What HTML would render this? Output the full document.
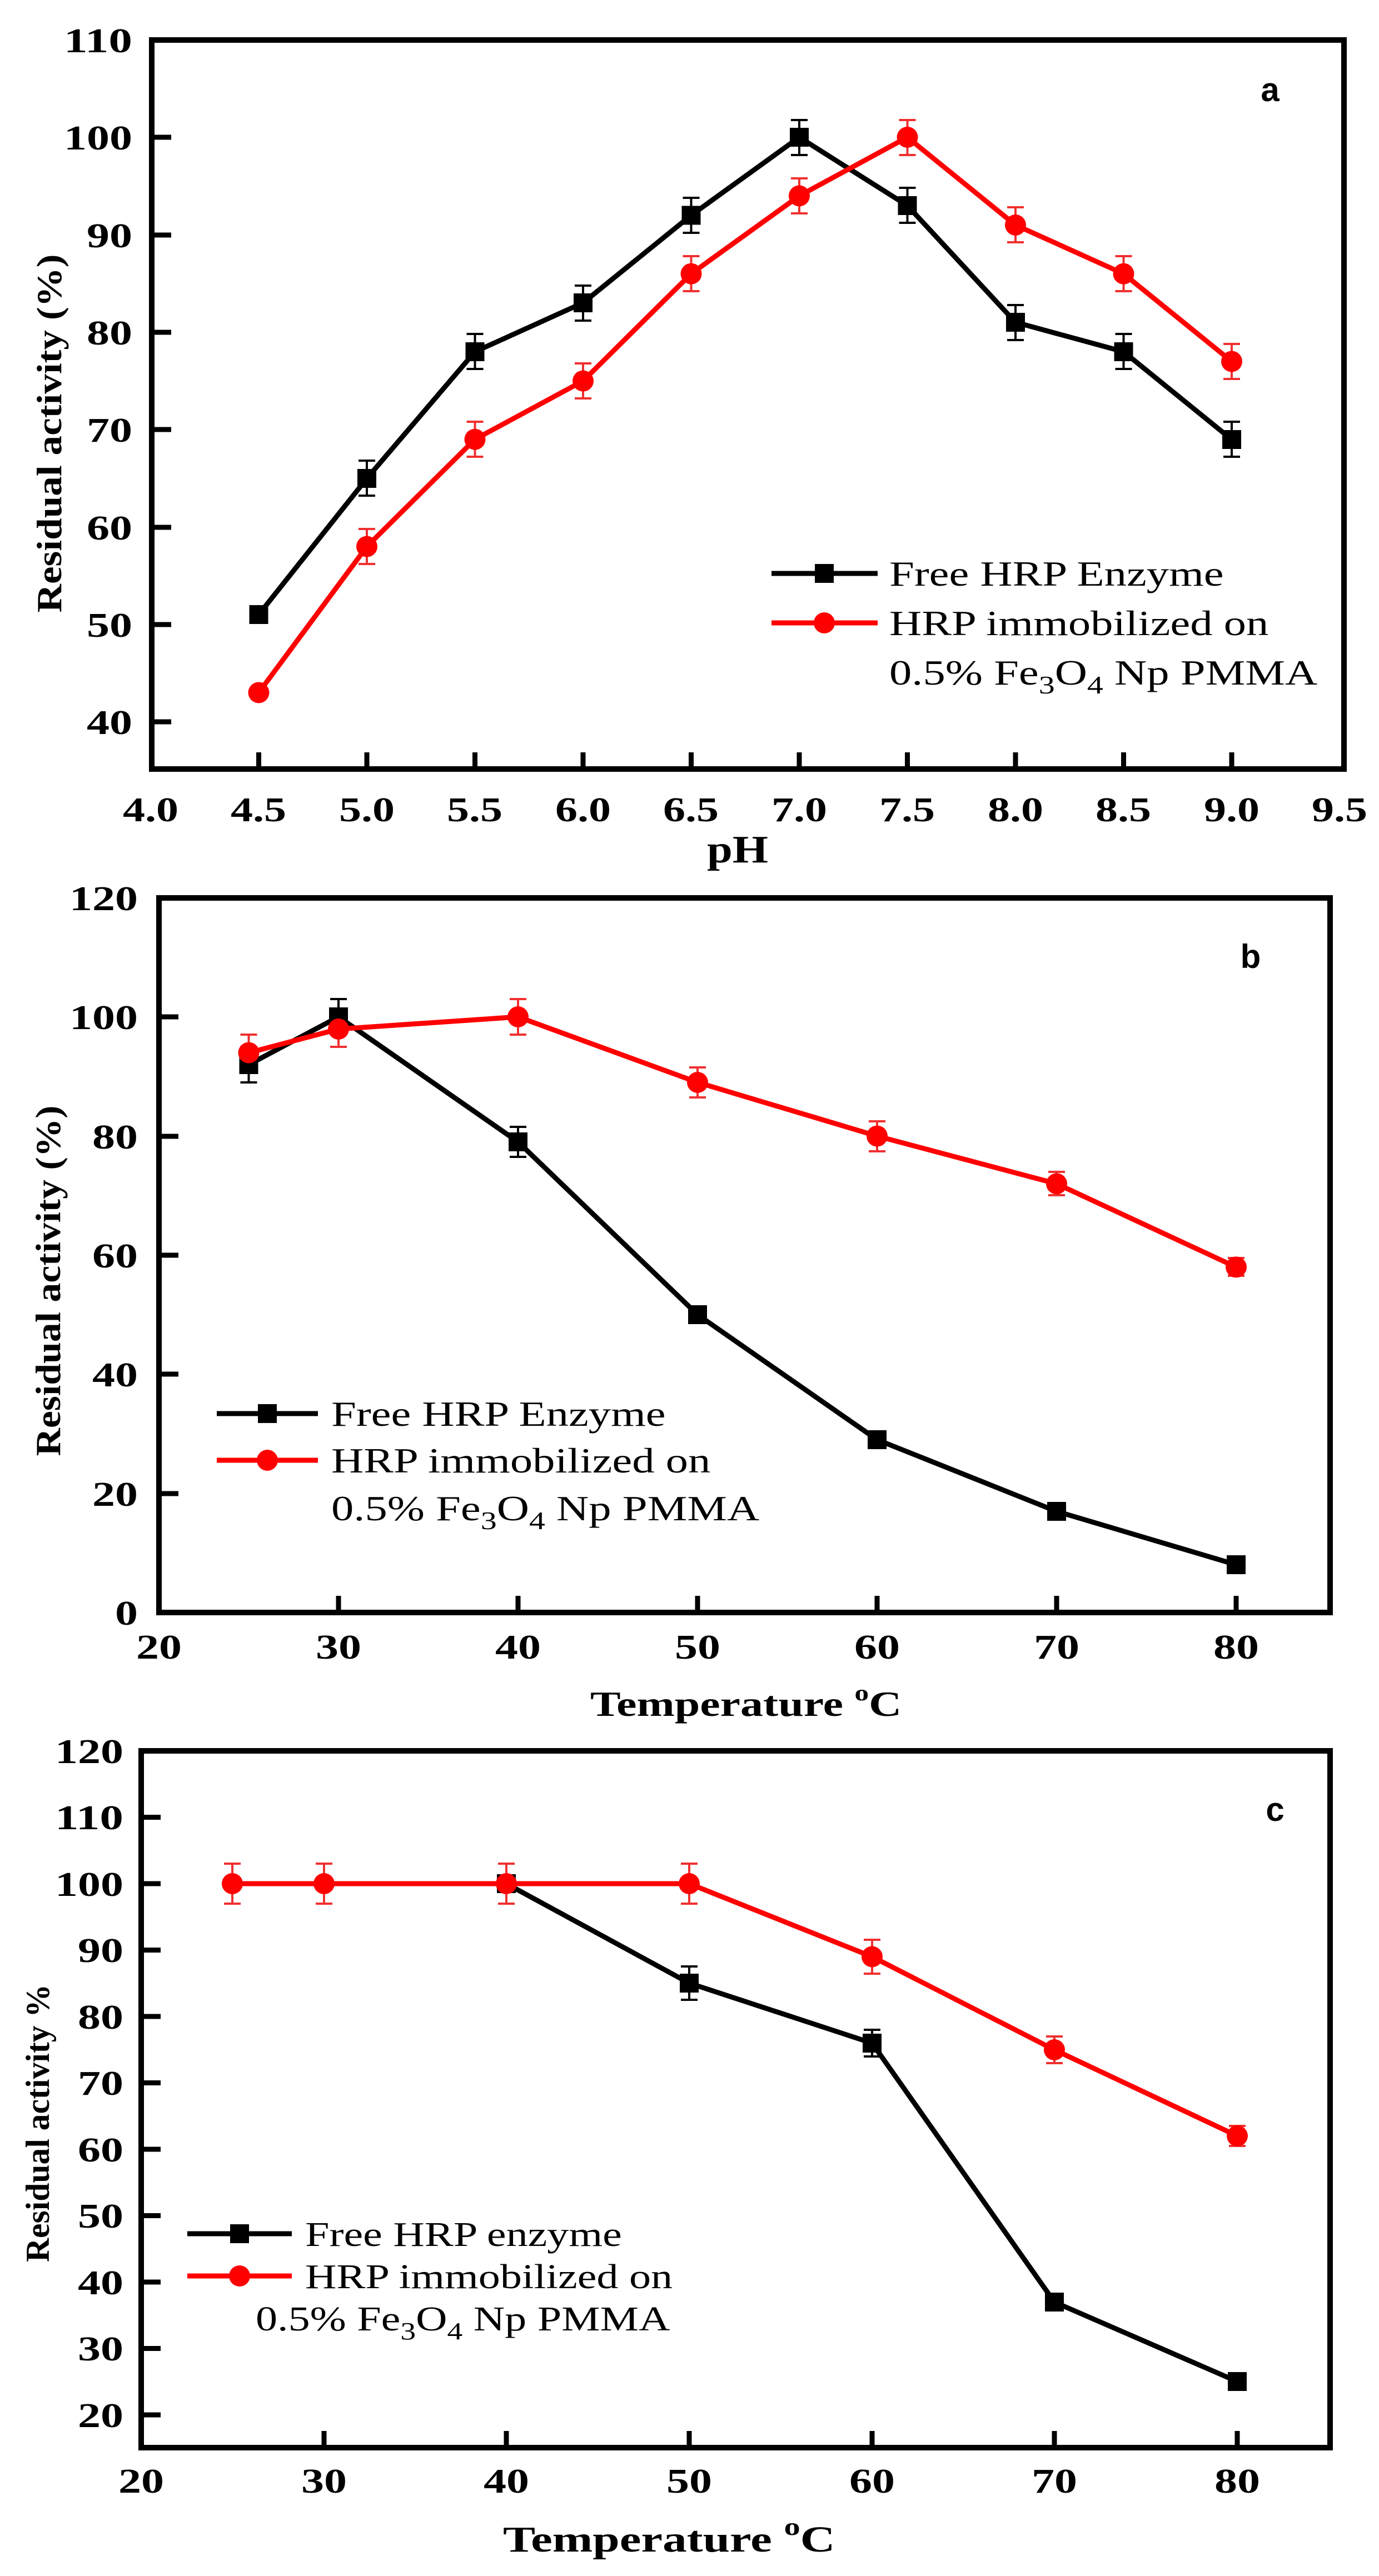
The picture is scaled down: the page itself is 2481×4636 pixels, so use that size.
<!DOCTYPE html>
<html><head><meta charset="utf-8"><style>html,body{margin:0;padding:0;background:#fff}svg{display:block;font-family:"Liberation Serif","Times New Roman",serif}.ss{font-family:"Liberation Sans",Arial,sans-serif}</style></head>
<body>
<svg width="2481" height="4636" viewBox="0 0 2481 4636" xmlns="http://www.w3.org/2000/svg">
<rect width="2481" height="4636" fill="#fff"/>

<!-- ================= PANEL A ================= -->
<g>
<rect x="273" y="72" width="2145" height="1312" fill="none" stroke="#000" stroke-width="10"/>
<g stroke="#000" stroke-width="9">
<line x1="273" y1="247" x2="308" y2="247"/><line x1="273" y1="423" x2="308" y2="423"/><line x1="273" y1="598" x2="308" y2="598"/><line x1="273" y1="773" x2="308" y2="773"/><line x1="273" y1="949" x2="308" y2="949"/><line x1="273" y1="1124" x2="308" y2="1124"/><line x1="273" y1="1299" x2="308" y2="1299"/>
<line x1="465.5" y1="1384" x2="465.5" y2="1354"/><line x1="660" y1="1384" x2="660" y2="1354"/><line x1="854.5" y1="1384" x2="854.5" y2="1354"/><line x1="1049" y1="1384" x2="1049" y2="1354"/><line x1="1243.5" y1="1384" x2="1243.5" y2="1354"/><line x1="1438" y1="1384" x2="1438" y2="1354"/><line x1="1632.5" y1="1384" x2="1632.5" y2="1354"/><line x1="1827" y1="1384" x2="1827" y2="1354"/><line x1="2021.5" y1="1384" x2="2021.5" y2="1354"/><line x1="2216" y1="1384" x2="2216" y2="1354"/>
</g>
<g font-weight="bold" font-size="62" text-anchor="end">
<text x="238" y="94" textLength="123" lengthAdjust="spacingAndGlyphs">110</text>
<text x="238" y="269" textLength="123" lengthAdjust="spacingAndGlyphs">100</text>
<text x="238" y="445" textLength="82" lengthAdjust="spacingAndGlyphs">90</text>
<text x="238" y="620" textLength="82" lengthAdjust="spacingAndGlyphs">80</text>
<text x="238" y="795" textLength="82" lengthAdjust="spacingAndGlyphs">70</text>
<text x="238" y="971" textLength="82" lengthAdjust="spacingAndGlyphs">60</text>
<text x="238" y="1146" textLength="82" lengthAdjust="spacingAndGlyphs">50</text>
<text x="238" y="1321" textLength="82" lengthAdjust="spacingAndGlyphs">40</text>
</g>
<g font-weight="bold" font-size="62">
<text x="221" y="1478" textLength="100" lengthAdjust="spacingAndGlyphs">4.0</text>
<text x="415" y="1478" textLength="100" lengthAdjust="spacingAndGlyphs">4.5</text>
<text x="610" y="1478" textLength="100" lengthAdjust="spacingAndGlyphs">5.0</text>
<text x="804" y="1478" textLength="100" lengthAdjust="spacingAndGlyphs">5.5</text>
<text x="999" y="1478" textLength="100" lengthAdjust="spacingAndGlyphs">6.0</text>
<text x="1193" y="1478" textLength="100" lengthAdjust="spacingAndGlyphs">6.5</text>
<text x="1388" y="1478" textLength="100" lengthAdjust="spacingAndGlyphs">7.0</text>
<text x="1582" y="1478" textLength="100" lengthAdjust="spacingAndGlyphs">7.5</text>
<text x="1777" y="1478" textLength="100" lengthAdjust="spacingAndGlyphs">8.0</text>
<text x="1971" y="1478" textLength="100" lengthAdjust="spacingAndGlyphs">8.5</text>
<text x="2166" y="1478" textLength="100" lengthAdjust="spacingAndGlyphs">9.0</text>
<text x="2360" y="1478" textLength="100" lengthAdjust="spacingAndGlyphs">9.5</text>
</g>
<text x="1272" y="1552" font-weight="bold" font-size="70" textLength="110" lengthAdjust="spacingAndGlyphs">pH</text>
<text transform="translate(110,780) rotate(-90)" font-weight="bold" font-size="64" text-anchor="middle" textLength="645" lengthAdjust="spacingAndGlyphs">Residual activity (%)</text>
<text x="2285" y="182" class="ss" font-weight="bold" font-size="60" text-anchor="middle">a</text>
<g stroke="#000" stroke-width="4">
<path d="M660 829v63M645 829h30M645 892h30 M854.5 601v63M839.5 601h30M839.5 664h30 M1049 514v63M1034 514h30M1034 577h30 M1243.5 356v63M1228.5 356h30M1228.5 419h30 M1438 216v63M1423 216h30M1423 279h30 M1632.5 338v63M1617.5 338h30M1617.5 401h30 M1827 549v63M1812 549h30M1812 612h30 M2021.5 601v63M2006.5 601h30M2006.5 664h30 M2216 759v63M2201 759h30M2201 822h30"/>
</g>
<g stroke="#f03030" stroke-width="4">
<path d="M660 952v63M645 952h30M645 1015h30 M854.5 759v63M839.5 759h30M839.5 822h30 M1049 654v63M1034 654h30M1034 717h30 M1243.5 461v63M1228.5 461h30M1228.5 524h30 M1438 321v63M1423 321h30M1423 384h30 M1632.5 216v63M1617.5 216h30M1617.5 279h30 M1827 373v63M1812 373h30M1812 436h30 M2021.5 461v63M2006.5 461h30M2006.5 524h30 M2216 619v63M2201 619h30M2201 682h30"/>
</g>
<polyline fill="none" stroke="#000" stroke-width="9" points="465.5,1106 660,861 854.5,633 1049,545 1243.5,387.5 1438,247 1632.5,370 1827,580 2021.5,633 2216,791"/>
<polyline fill="none" stroke="#ff0000" stroke-width="9" points="465.5,1246.5 660,983.6 854.5,790.7 1049,685.6 1243.5,492.7 1438,352.5 1632.5,247 1827,405 2021.5,492.7 2216,650.5"/>
<g fill="#000">
<rect x="448.5" y="1089" width="34" height="34"/><rect x="643" y="844" width="34" height="34"/><rect x="837.5" y="616" width="34" height="34"/><rect x="1032" y="528" width="34" height="34"/><rect x="1226.5" y="370.5" width="34" height="34"/><rect x="1421" y="230" width="34" height="34"/><rect x="1615.5" y="353" width="34" height="34"/><rect x="1810" y="563" width="34" height="34"/><rect x="2004.5" y="616" width="34" height="34"/><rect x="2199" y="774" width="34" height="34"/>
</g>
<g fill="#ff0000">
<circle cx="465.5" cy="1246.5" r="19"/><circle cx="660" cy="983.6" r="19"/><circle cx="854.5" cy="790.7" r="19"/><circle cx="1049" cy="685.6" r="19"/><circle cx="1243.5" cy="492.7" r="19"/><circle cx="1438" cy="352.5" r="19"/><circle cx="1632.5" cy="247" r="19"/><circle cx="1827" cy="405" r="19"/><circle cx="2021.5" cy="492.7" r="19"/><circle cx="2216" cy="650.5" r="19"/>
</g>
<line x1="1388" y1="1032" x2="1579" y2="1032" stroke="#000" stroke-width="9"/><rect x="1466" y="1015" width="34" height="34" fill="#000"/>
<line x1="1388" y1="1121" x2="1579" y2="1121" stroke="#ff0000" stroke-width="9"/><circle cx="1483" cy="1121" r="19" fill="#ff0000"/>
<g font-size="64">
<text transform="translate(1600,1054) scale(1.26,1)">Free HRP Enzyme</text>
<text transform="translate(1600,1143) scale(1.26,1)">HRP immobilized on</text>
<text transform="translate(1600,1232) scale(1.26,1)">0.5% Fe<tspan font-size="46" dy="16">3</tspan><tspan dy="-16">O</tspan><tspan font-size="46" dy="16">4</tspan><tspan dy="-16"> Np PMMA</tspan></text>
</g>
</g>

<!-- ================= PANEL B ================= -->
<g>
<rect x="286" y="1616" width="2107" height="1286" fill="none" stroke="#000" stroke-width="10"/>
<g stroke="#000" stroke-width="9">
<line x1="286" y1="1830" x2="321" y2="1830"/><line x1="286" y1="2045" x2="321" y2="2045"/><line x1="286" y1="2259" x2="321" y2="2259"/><line x1="286" y1="2473" x2="321" y2="2473"/><line x1="286" y1="2688" x2="321" y2="2688"/>
<line x1="609" y1="2902" x2="609" y2="2872"/><line x1="932" y1="2902" x2="932" y2="2872"/><line x1="1255" y1="2902" x2="1255" y2="2872"/><line x1="1578" y1="2902" x2="1578" y2="2872"/><line x1="1901" y1="2902" x2="1901" y2="2872"/><line x1="2224" y1="2902" x2="2224" y2="2872"/>
</g>
<g font-weight="bold" font-size="62" text-anchor="end">
<text x="248" y="1638" textLength="123" lengthAdjust="spacingAndGlyphs">120</text>
<text x="248" y="1852" textLength="123" lengthAdjust="spacingAndGlyphs">100</text>
<text x="248" y="2067" textLength="82" lengthAdjust="spacingAndGlyphs">80</text>
<text x="248" y="2281" textLength="82" lengthAdjust="spacingAndGlyphs">60</text>
<text x="248" y="2495" textLength="82" lengthAdjust="spacingAndGlyphs">40</text>
<text x="248" y="2710" textLength="82" lengthAdjust="spacingAndGlyphs">20</text>
<text x="248" y="2924" textLength="41" lengthAdjust="spacingAndGlyphs">0</text>
</g>
<g font-weight="bold" font-size="62" text-anchor="middle">
<text x="286" y="2985" textLength="82" lengthAdjust="spacingAndGlyphs">20</text>
<text x="609" y="2985" textLength="82" lengthAdjust="spacingAndGlyphs">30</text>
<text x="932" y="2985" textLength="82" lengthAdjust="spacingAndGlyphs">40</text>
<text x="1255" y="2985" textLength="82" lengthAdjust="spacingAndGlyphs">50</text>
<text x="1578" y="2985" textLength="82" lengthAdjust="spacingAndGlyphs">60</text>
<text x="1901" y="2985" textLength="82" lengthAdjust="spacingAndGlyphs">70</text>
<text x="2224" y="2985" textLength="82" lengthAdjust="spacingAndGlyphs">80</text>
</g>
<text transform="translate(1062,3088) scale(1.28,1)" font-weight="bold" font-size="64">Temperature <tspan font-size="40" dy="-28">o</tspan><tspan dy="28">C</tspan></text>
<text transform="translate(108,2305) rotate(-90)" font-weight="bold" font-size="64" text-anchor="middle" textLength="631" lengthAdjust="spacingAndGlyphs">Residual activity (%)</text>
<text x="2250" y="1742" class="ss" font-weight="bold" font-size="60" text-anchor="middle">b</text>
<g stroke="#000" stroke-width="4">
<path d="M447.5 1884v64M432.5 1884h30M432.5 1948h30 M609 1798v64M594 1798h30M594 1862h30 M932 2028v54M917 2028h30M917 2082h30"/>
</g>
<g stroke="#f03030" stroke-width="4">
<path d="M447.5 1862v64M432.5 1862h30M432.5 1926h30 M609 1820v64M594 1820h30M594 1884h30 M932 1798v64M917 1798h30M917 1862h30 M1255 1921v54M1240 1921h30M1240 1975h30 M1578 2018v54M1563 2018h30M1563 2072h30 M1901 2109v42M1886 2109h30M1886 2151h30 M2224 2264v32M2209 2264h30M2209 2296h30"/>
</g>
<polyline fill="none" stroke="#000" stroke-width="9" points="447.5,1916 609,1830 932,2055 1255,2366 1578,2591 1901,2720 2224,2816"/>
<polyline fill="none" stroke="#ff0000" stroke-width="9" points="447.5,1894.6 609,1852 932,1830 1255,1948 1578,2044.6 1901,2130.4 2224,2280.4"/>
<g fill="#000">
<rect x="430.5" y="1899" width="34" height="34"/><rect x="592" y="1813" width="34" height="34"/><rect x="915" y="2038" width="34" height="34"/><rect x="1238" y="2349" width="34" height="34"/><rect x="1561" y="2574" width="34" height="34"/><rect x="1884" y="2703" width="34" height="34"/><rect x="2207" y="2799" width="34" height="34"/>
</g>
<g fill="#ff0000">
<circle cx="447.5" cy="1894.6" r="19"/><circle cx="609" cy="1852" r="19"/><circle cx="932" cy="1830" r="19"/><circle cx="1255" cy="1948" r="19"/><circle cx="1578" cy="2044.6" r="19"/><circle cx="1901" cy="2130.4" r="19"/><circle cx="2224" cy="2280.4" r="19"/>
</g>
<line x1="390" y1="2544" x2="572" y2="2544" stroke="#000" stroke-width="9"/><rect x="464" y="2527" width="34" height="34" fill="#000"/>
<line x1="390" y1="2628" x2="572" y2="2628" stroke="#ff0000" stroke-width="9"/><circle cx="481" cy="2628" r="19" fill="#ff0000"/>
<g font-size="64">
<text transform="translate(596,2566) scale(1.26,1)">Free HRP Enzyme</text>
<text transform="translate(596,2650) scale(1.26,1)">HRP immobilized on</text>
<text transform="translate(596,2736) scale(1.26,1)">0.5% Fe<tspan font-size="46" dy="16">3</tspan><tspan dy="-16">O</tspan><tspan font-size="46" dy="16">4</tspan><tspan dy="-16"> Np PMMA</tspan></text>
</g>
</g>

<!-- ================= PANEL C ================= -->
<g>
<rect x="254" y="3151" width="2139" height="1254" fill="none" stroke="#000" stroke-width="10"/>
<g stroke="#000" stroke-width="9">
<line x1="254" y1="3270.5" x2="289" y2="3270.5"/><line x1="254" y1="3390" x2="289" y2="3390"/><line x1="254" y1="3509.5" x2="289" y2="3509.5"/><line x1="254" y1="3629" x2="289" y2="3629"/><line x1="254" y1="3748.5" x2="289" y2="3748.5"/><line x1="254" y1="3868" x2="289" y2="3868"/><line x1="254" y1="3987.5" x2="289" y2="3987.5"/><line x1="254" y1="4107" x2="289" y2="4107"/><line x1="254" y1="4226.5" x2="289" y2="4226.5"/><line x1="254" y1="4346" x2="289" y2="4346"/>
<line x1="583" y1="4405" x2="583" y2="4375"/><line x1="911" y1="4405" x2="911" y2="4375"/><line x1="1240" y1="4405" x2="1240" y2="4375"/><line x1="1569" y1="4405" x2="1569" y2="4375"/><line x1="1897" y1="4405" x2="1897" y2="4375"/><line x1="2226" y1="4405" x2="2226" y2="4375"/>
</g>
<g font-weight="bold" font-size="62" text-anchor="end">
<text x="222" y="3173" textLength="123" lengthAdjust="spacingAndGlyphs">120</text>
<text x="222" y="3292" textLength="123" lengthAdjust="spacingAndGlyphs">110</text>
<text x="222" y="3412" textLength="123" lengthAdjust="spacingAndGlyphs">100</text>
<text x="222" y="3531" textLength="82" lengthAdjust="spacingAndGlyphs">90</text>
<text x="222" y="3651" textLength="82" lengthAdjust="spacingAndGlyphs">80</text>
<text x="222" y="3770" textLength="82" lengthAdjust="spacingAndGlyphs">70</text>
<text x="222" y="3890" textLength="82" lengthAdjust="spacingAndGlyphs">60</text>
<text x="222" y="4009" textLength="82" lengthAdjust="spacingAndGlyphs">50</text>
<text x="222" y="4129" textLength="82" lengthAdjust="spacingAndGlyphs">40</text>
<text x="222" y="4248" textLength="82" lengthAdjust="spacingAndGlyphs">30</text>
<text x="222" y="4368" textLength="82" lengthAdjust="spacingAndGlyphs">20</text>
</g>
<g font-weight="bold" font-size="62" text-anchor="middle">
<text x="254" y="4486" textLength="82" lengthAdjust="spacingAndGlyphs">20</text>
<text x="583" y="4486" textLength="82" lengthAdjust="spacingAndGlyphs">30</text>
<text x="911" y="4486" textLength="82" lengthAdjust="spacingAndGlyphs">40</text>
<text x="1240" y="4486" textLength="82" lengthAdjust="spacingAndGlyphs">50</text>
<text x="1569" y="4486" textLength="82" lengthAdjust="spacingAndGlyphs">60</text>
<text x="1897" y="4486" textLength="82" lengthAdjust="spacingAndGlyphs">70</text>
<text x="2226" y="4486" textLength="82" lengthAdjust="spacingAndGlyphs">80</text>
</g>
<text transform="translate(905,4592) scale(1.32,1)" font-weight="bold" font-size="66">Temperature <tspan font-size="44" dy="-30">o</tspan><tspan dy="30">C</tspan></text>
<text transform="translate(88,3821) rotate(-90)" font-weight="bold" font-size="60" text-anchor="middle" textLength="500" lengthAdjust="spacingAndGlyphs">Residual activity %</text>
<text x="2294" y="3277" class="ss" font-weight="bold" font-size="60" text-anchor="middle">c</text>
<g stroke="#000" stroke-width="4">
<path d="M1240 3539v60M1225 3539h30M1225 3599h30 M1569 3653v48M1554 3653h30M1554 3701h30"/>
</g>
<g stroke="#f03030" stroke-width="4">
<path d="M418 3354v72M403 3354h30M403 3426h30 M583 3354v72M568 3354h30M568 3426h30 M911 3354v72M896 3354h30M896 3426h30 M1240 3354v72M1225 3354h30M1225 3426h30 M1569 3491v61M1554 3491h30M1554 3552h30 M1897 3665v48M1882 3665h30M1882 3713h30 M2226 3826v36M2211 3826h30M2211 3862h30"/>
</g>
<polyline fill="none" stroke="#000" stroke-width="9" points="418,3390 583,3390 911,3390 1240,3569 1569,3677 1897,4143 2226,4286"/>
<g fill="#000">
<rect x="894" y="3373" width="34" height="34"/><rect x="1223" y="3552" width="34" height="34"/><rect x="1552" y="3660" width="34" height="34"/><rect x="1880" y="4126" width="34" height="34"/><rect x="2209" y="4269" width="34" height="34"/>
</g>
<polyline fill="none" stroke="#ff0000" stroke-width="9" points="418,3390 583,3390 911,3390 1240,3390 1569,3521.5 1897,3689 2226,3844"/>
<g fill="#ff0000">
<circle cx="418" cy="3390" r="19"/><circle cx="583" cy="3390" r="19"/><circle cx="911" cy="3390" r="19"/><circle cx="1240" cy="3390" r="19"/><circle cx="1569" cy="3521.5" r="19"/><circle cx="1897" cy="3689" r="19"/><circle cx="2226" cy="3844" r="19"/>
</g>
<line x1="337" y1="4020" x2="525" y2="4020" stroke="#000" stroke-width="9"/><rect x="414" y="4003" width="34" height="34" fill="#000"/>
<line x1="337" y1="4096" x2="525" y2="4096" stroke="#ff0000" stroke-width="9"/><circle cx="431" cy="4096" r="19" fill="#ff0000"/>
<g font-size="62">
<text transform="translate(549,4042) scale(1.26,1)">Free HRP enzyme</text>
<text transform="translate(549,4118) scale(1.26,1)">HRP immobilized on</text>
<text transform="translate(460,4194) scale(1.26,1)">0.5% Fe<tspan font-size="44" dy="16">3</tspan><tspan dy="-16">O</tspan><tspan font-size="44" dy="16">4</tspan><tspan dy="-16"> Np PMMA</tspan></text>
</g>
</g>
</svg>
</body></html>
